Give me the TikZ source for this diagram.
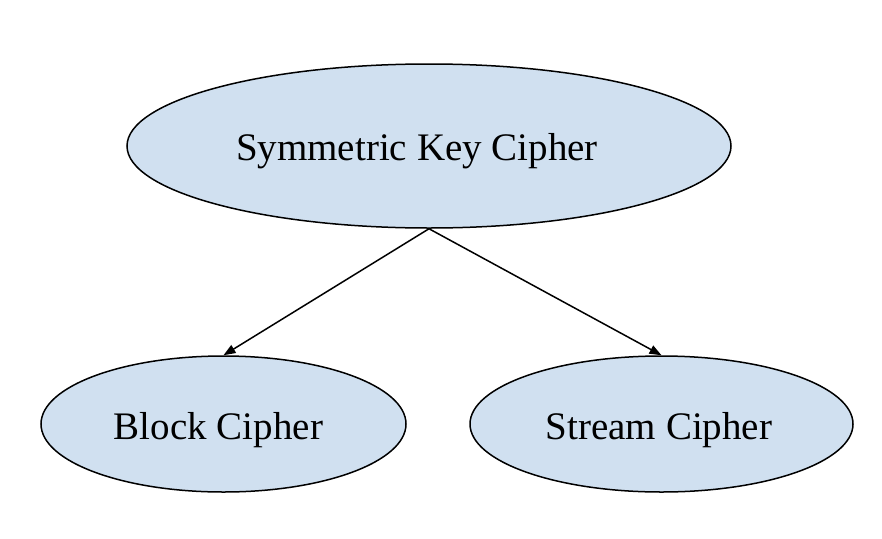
\documentclass[tikz,border=0pt]{standalone}
\usepackage{fontspec}
\setmainfont{Liberation Serif}
\usetikzlibrary{shapes.geometric,arrows.meta}
\definecolor{fillblue}{RGB}{208,224,240}
\tikzset{
  oval/.style={ellipse, draw=black, line width=1.5pt, fill=fillblue, inner sep=0pt},
  lbl/.style={anchor=base, inner sep=0pt, font=\fontsize{39}{45}\selectfont},
  link/.style={line width=1.5pt, -{Triangle[length=12pt,width=9pt]}}
}
\begin{document}
\begin{tikzpicture}[x=1pt,y=-1pt]
\useasboundingbox (0,0) rectangle (882,538);
\node[oval, minimum width=604pt, minimum height=164pt] (top) at (429,146) {};
\node[oval, minimum width=365pt, minimum height=136pt] (block) at (223.5,424) {};
\node[oval, minimum width=383pt, minimum height=136pt] (stream) at (661.5,424) {};
\node[lbl] (toplbl) at (417,160.5) {Symmetric Key Cipher};
\node[lbl] (blocklbl) at (218.5,439) {Block Cipher};
\node[lbl] (streamlbl) at (659,439) {Stream Cipher};
\draw[link] (top.south) -- (block.north);
\draw[link] (top.south) -- (stream.north);
\end{tikzpicture}
\end{document}
